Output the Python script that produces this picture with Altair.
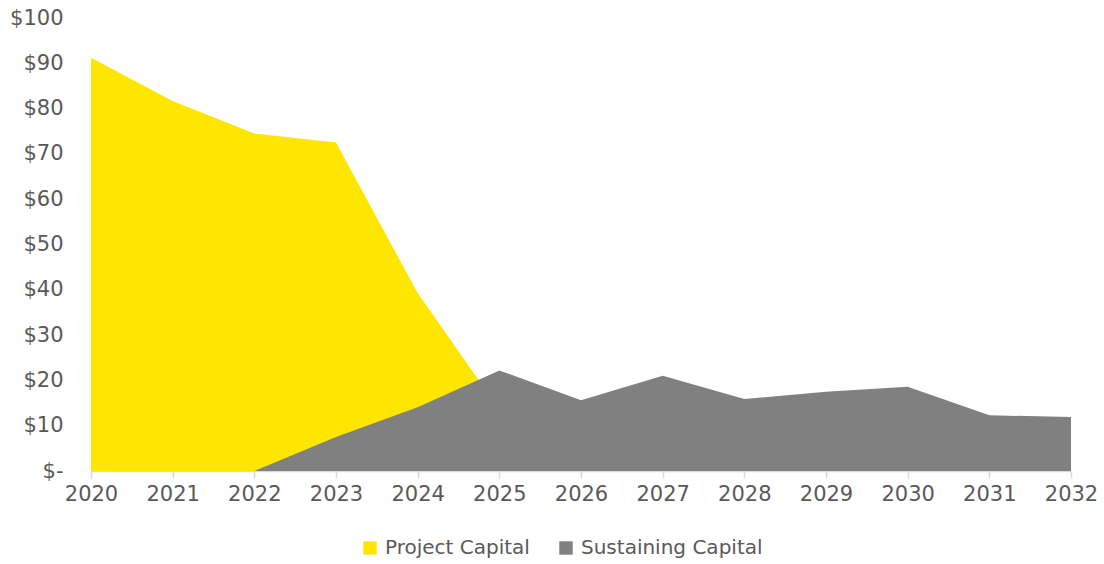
import altair as alt
import pandas as pd

years = list(range(2020, 2033))
project_capital = [91.2, 81.7, 74.5, 72.5, 39.3, 13.6, 0, 0, 0, 0, 0, 0, 0]
sustaining_capital = [0, 0, 0, 7.5, 14.1, 22.2, 15.6, 21.0, 15.9, 17.5, 18.6, 12.3, 11.9]
series_names = ["Project Capital", "Sustaining Capital"]
series_colors = ["#FFE600", "#808080"]

df = pd.DataFrame(
    [{"year": y, "value": v, "series": series_names[0]} for y, v in zip(years, project_capital)]
    + [{"year": y, "value": v, "series": series_names[1]} for y, v in zip(years, sustaining_capital)]
)

FONT = "DejaVu Sans"
TXT = "#595959"

color = alt.Color(
    "series:N",
    scale=alt.Scale(domain=series_names, range=series_colors),
    legend=alt.Legend(
        title=None,
        orient="none",
        legendX=269,
        legendY=520,
        direction="horizontal",
        symbolType="square",
        symbolSize=180,
        symbolStrokeWidth=0,
        symbolOpacity=1,
        labelFontSize=20,
        labelFont=FONT,
        labelColor=TXT,
        labelLimit=400,
        columnPadding=26,
        labelOffset=5,
    ),
)

x = alt.X(
    "year:Q",
    scale=alt.Scale(domain=[2020, 2032], nice=False, zero=False),
    axis=alt.Axis(
        title=None,
        values=years,
        format="d",
        grid=False,
        domainColor="#d9d9d9",
        domainWidth=1.5,
        tickColor="#d9d9d9",
        tickSize=7,
        tickWidth=1.5,
        labelFontSize=21,
        labelFont=FONT,
        labelColor=TXT,
        labelPadding=5,
        labelFlush=False,
    ),
)
y = alt.Y(
    "value:Q",
    scale=alt.Scale(domain=[0, 100], nice=False),
    axis=alt.Axis(
        title=None,
        values=list(range(0, 101, 10)),
        labelExpr="datum.value == 0 ? '$-\u2007' : '$' + datum.value",
        grid=False,
        domain=False,
        ticks=False,
        labelFontSize=21,
        labelFont=FONT,
        labelColor=TXT,
        labelPadding=28,
    ),
)

base = alt.Chart(df)
proj = base.transform_filter(alt.datum.series == series_names[0]).mark_area(opacity=1).encode(
    x=x, y=y, color=color
)
sust = base.transform_filter(alt.datum.series == series_names[1]).mark_area(opacity=1).encode(
    x=x, y=y, color=color
)

chart = (
    alt.layer(proj, sust)
    .properties(
        width=980,
        height=453,
        background="white",
        autosize=alt.AutoSizeParams(type="none"),
        padding={"left": 91, "top": 18, "right": 33, "bottom": 93},
    )
    .configure_view(strokeWidth=0, stroke=None)
)

chart.save("out.html", embed_options={"renderer": "svg", "actions": False})
